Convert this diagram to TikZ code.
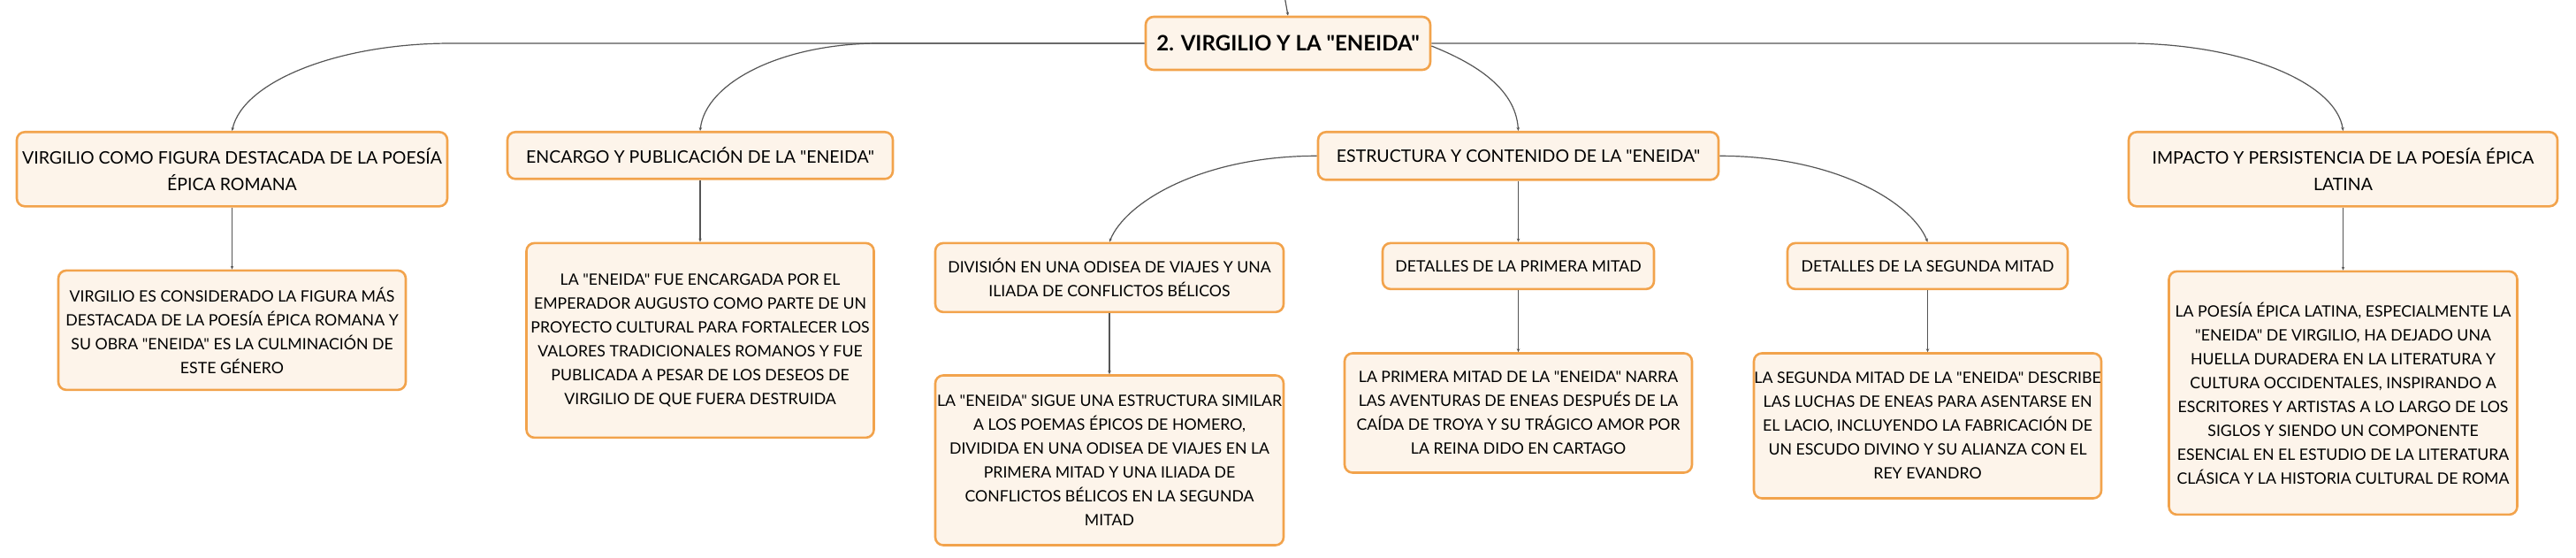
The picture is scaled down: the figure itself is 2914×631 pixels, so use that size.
\documentclass[tikz,border=0pt]{standalone}
\usepackage{fontspec}
\setmainfont{Lato}[Ligatures=TeXOff]
\usepackage{xcolor}
\usepackage{tikz}
\usetikzlibrary{arrows.meta}
\usetikzlibrary{positioning}
\usetikzlibrary{calc}
\definecolor{naranja}{RGB}{242,163,76}
\definecolor{crema}{RGB}{253,244,234}
\definecolor{linea}{RGB}{85,85,85}
\tikzset{
  caja/.style = {align=center, inner sep=0pt, text centered,
    rounded corners=9pt, draw=naranja, fill=crema, line width=2.6pt,
    text=black},
  nodo_raiz/.style = {caja, font=\fontsize{24}{30}\selectfont\bfseries,
    minimum width=322pt, minimum height=60pt},% nodo central
  nodo_rama/.style = {caja, font=\fontsize{19.5}{30}\selectfont,
    minimum height=53pt},% primer nivel
  nodo_det/.style = {caja, font=\fontsize{17.7}{27}\selectfont,
    minimum width=393pt},% segundo nivel y textos
  enlace/.style = {draw=linea, line width=1.2pt}
}
\begin{document}
\begin{tikzpicture}[->,>={Stealth[length=4pt,width=3.5pt]}, x=1pt, y=-1pt, node distance=70pt]
\useasboundingbox (0,0) rectangle (2914,631);

\node [nodo_raiz] (raiz) at (1457,49) {2. VIRGILIO Y LA "ENEIDA"};

% primer nivel
\node [nodo_rama, anchor=north, minimum width=487pt, minimum height=84pt] (n1) at (262.5,148)
  {VIRGILIO COMO FIGURA DESTACADA DE LA POESÍA\\ÉPICA ROMANA};
\node [nodo_rama, anchor=north, minimum width=436pt] (n2) at (792,148)
  {ENCARGO Y PUBLICACIÓN DE LA "ENEIDA"};
\node [nodo_rama, anchor=north, minimum width=453pt, minimum height=54pt] (n3) at (1717.5,148)
  {ESTRUCTURA Y CONTENIDO DE LA "ENEIDA"};
\node [nodo_rama, anchor=north, minimum width=485pt, minimum height=84pt] (n4) at (2650.5,148)
  {IMPACTO Y PERSISTENCIA DE LA POESÍA ÉPICA\\LATINA};

% segundo nivel
\node [nodo_det, below=69pt of n3, xshift=-462.5pt, minimum width=394pt, minimum height=78pt] (n31)
  {DIVISIÓN EN UNA ODISEA DE VIAJES Y UNA\\ILIADA DE CONFLICTOS BÉLICOS};
\node [nodo_det, below=69pt of n3, minimum width=307pt, minimum height=52pt] (n32)
  {DETALLES DE LA PRIMERA MITAD};
\node [nodo_det, below=69pt of n3, xshift=463pt, minimum width=317pt, minimum height=52pt] (n33)
  {DETALLES DE LA SEGUNDA MITAD};

% textos
\node [nodo_det, below=of n1, minimum height=135pt] (n1d)
  {VIRGILIO ES CONSIDERADO LA FIGURA MÁS\\DESTACADA DE LA POESÍA ÉPICA ROMANA Y\\SU OBRA "ENEIDA" ES LA CULMINACIÓN DE\\ESTE GÉNERO};
\node [nodo_det, below=of n2, minimum height=220pt] (n2d)
  {LA "ENEIDA" FUE ENCARGADA POR EL\\EMPERADOR AUGUSTO COMO PARTE DE UN\\PROYECTO CULTURAL PARA FORTALECER LOS\\VALORES TRADICIONALES ROMANOS Y FUE\\PUBLICADA A PESAR DE LOS DESEOS DE\\VIRGILIO DE QUE FUERA DESTRUIDA};
\node [nodo_det, below=69pt of n31, minimum width=394pt, minimum height=192pt] (n31d)
  {LA "ENEIDA" SIGUE UNA ESTRUCTURA SIMILAR\\A LOS POEMAS ÉPICOS DE HOMERO,\\DIVIDIDA EN UNA ODISEA DE VIAJES EN LA\\PRIMERA MITAD Y UNA ILIADA DE\\CONFLICTOS BÉLICOS EN LA SEGUNDA\\MITAD};
\node [nodo_det, below=of n32, minimum height=135pt] (n32d)
  {LA PRIMERA MITAD DE LA "ENEIDA" NARRA\\LAS AVENTURAS DE ENEAS DESPUÉS DE LA\\CAÍDA DE TROYA Y SU TRÁGICO AMOR POR\\LA REINA DIDO EN CARTAGO};
\node [nodo_det, below=of n33, minimum height=164pt] (n33d)
  {LA SEGUNDA MITAD DE LA "ENEIDA" DESCRIBE\\LAS LUCHAS DE ENEAS PARA ASENTARSE EN\\EL LACIO, INCLUYENDO LA FABRICACIÓN DE\\UN ESCUDO DIVINO Y SU ALIANZA CON EL\\REY EVANDRO};
\node [nodo_det, below=71pt of n4, minimum width=394pt, minimum height=275pt] (n4d)
  {LA POESÍA ÉPICA LATINA, ESPECIALMENTE LA\\"ENEIDA" DE VIRGILIO, HA DEJADO UNA\\HUELLA DURADERA EN LA LITERATURA Y\\CULTURA OCCIDENTALES, INSPIRANDO A\\ESCRITORES Y ARTISTAS A LO LARGO DE LOS\\SIGLOS Y SIENDO UN COMPONENTE\\ESENCIAL EN EL ESTUDIO DE LA LITERATURA\\CLÁSICA Y LA HISTORIA CULTURAL DE ROMA};

\coordinate (arriba) at (1452,-10);

\draw [enlace] (arriba) -- (raiz.north);
\draw [enlace] (raiz.west) -- ([xshift=248pt]n1.north |- raiz.west)
  .. controls +(-130,0) and +(12,-55) .. (n1.north);
\draw [enlace] (raiz.west) -- ([xshift=203pt]n2.north |- raiz.west)
  .. controls +(-110,0) and +(6,-55) .. (n2.north);
\draw [enlace] ([yshift=-3pt]raiz.east) .. controls +(45,18) and +(-3,-50) .. (n3.north);
\draw [enlace] (raiz.east) -- ([xshift=-245pt]n4.north |- raiz.east)
  .. controls +(130,0) and +(-8,-55) .. (n4.north);

\draw [enlace] (n3.west) .. controls +(-130,0) and +(18,-45) .. (n31.north);
\draw [enlace] (n3) -- (n32);
\draw [enlace] (n3.east) .. controls +(130,0) and +(-18,-45) .. (n33.north);

\draw [enlace] (n1) -- (n1d);
\draw [enlace] (n2) -- (n2d);
\draw [enlace] (n31) -- (n31d);
\draw [enlace] (n32) -- (n32d);
\draw [enlace] (n33) -- (n33d);
\draw [enlace] (n4) -- (n4d);
\end{tikzpicture}
\end{document}
